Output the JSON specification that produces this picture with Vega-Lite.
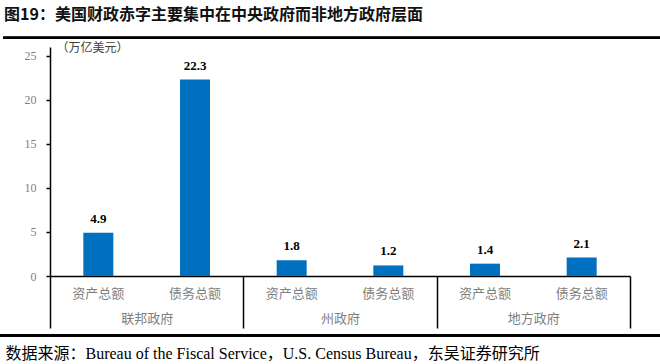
{
  "$schema": "https://vega.github.io/schema/vega-lite/v6.json",
  "width": 580,
  "height": 229,
  "autosize": {"type": "none"},
  "padding": {"left": 50, "top": 47, "right": 30, "bottom": 88},
  "background": "white",
  "config": {
    "view": {"stroke": null},
    "font": "Liberation Serif, Noto Sans CJK SC"
  },
  "title": {
    "text": "图19：美国财政赤字主要集中在中央政府而非地方政府层面",
    "anchor": "start",
    "frame": "group",
    "dx": -46,
    "offset": 14,
    "fontSize": 16,
    "fontWeight": "bold",
    "color": "#111111",
    "font": "Noto Sans CJK SC"
  },
  "data": {
    "values": [
      {"group": "联邦政府", "item": "资产总额", "key": "联邦政府|资产总额", "value": 4.9},
      {"group": "联邦政府", "item": "债务总额", "key": "联邦政府|债务总额", "value": 22.3},
      {"group": "州政府", "item": "资产总额", "key": "州政府|资产总额", "value": 1.8},
      {"group": "州政府", "item": "债务总额", "key": "州政府|债务总额", "value": 1.2},
      {"group": "地方政府", "item": "资产总额", "key": "地方政府|资产总额", "value": 1.4},
      {"group": "地方政府", "item": "债务总额", "key": "地方政府|债务总额", "value": 2.1}
    ]
  },
  "layer": [
    {
      "layer": [
        {
          "mark": {"type": "bar", "color": "#0070C0", "width": 30},
          "encoding": {
            "x": {
              "field": "key",
              "type": "nominal",
              "sort": null,
              "scale": {"paddingInner": 0, "paddingOuter": 0},
              "axis": {
                "title": null,
                "labelExpr": "split(datum.value, '|')[1]",
                "labelAngle": 0,
                "labelFont": "Noto Sans CJK SC",
                "labelFontSize": 13,
                "labelColor": "#808080",
                "labelBaseline": "middle",
                "labelPadding": 17,
                "ticks": false,
                "domain": true,
                "domainColor": "#000000",
                "domainWidth": 1.5,
                "grid": false
              }
            },
            "y": {
              "field": "value",
              "type": "quantitative",
              "scale": {"domain": [0, 25]},
              "axis": {
                "values": [0, 5, 10, 15, 20, 25],
                "grid": false,
                "domainColor": "#000000",
                "domainWidth": 1.5,
                "tickColor": "#000000",
                "tickSize": 4,
                "tickWidth": 1.5,
                "labelFont": "Liberation Serif",
                "labelFontSize": 12,
                "labelColor": "#808080",
                "labelPadding": 10,
                "title": "（万亿美元）",
                "titleAngle": 0,
                "titleX": 6,
                "titleY": 0,
                "titleAlign": "left",
                "titleBaseline": "middle",
                "titleFont": "Noto Sans CJK SC",
                "titleFontSize": 12,
                "titleFontWeight": "normal",
                "titleColor": "#404040"
              }
            }
          }
        },
        {
          "mark": {
            "type": "text",
            "baseline": "middle",
            "dy": -14,
            "font": "Liberation Serif",
            "fontSize": 13,
            "fontWeight": "bold",
            "color": "#000000"
          },
          "encoding": {
            "x": {"field": "key", "type": "nominal", "sort": null},
            "y": {"field": "value", "type": "quantitative"},
            "text": {"field": "value", "type": "quantitative", "format": ".1f"}
          }
        }
      ]
    },
    {
      "mark": {"type": "tick", "opacity": 0},
      "encoding": {
        "x": {
          "field": "group",
          "type": "nominal",
          "sort": null,
          "scale": {"paddingInner": 0, "paddingOuter": 0},
          "axis": {
            "orient": "bottom",
            "labelAngle": 0,
            "labelFont": "Noto Sans CJK SC",
            "labelFontSize": 13,
            "labelColor": "#808080",
            "labelBaseline": "middle",
            "labelPadding": -10,
            "domain": false,
            "ticks": true,
            "tickBand": "extent",
            "tickSize": 52,
            "tickColor": "#000000",
            "tickWidth": 1.5,
            "grid": false,
            "title": "数据来源：Bureau of the Fiscal Service，U.S. Census Bureau，东吴证券研究所",
            "titleX": -45,
            "titleY": 77,
            "titleAlign": "left",
            "titleAnchor": "start",
            "titleBaseline": "middle",
            "titleFont": "Liberation Serif, Noto Sans CJK SC",
            "titleFontSize": 16,
            "titleFontWeight": "normal",
            "titleColor": "#000000"
          }
        },
        "y": {"field": "value", "type": "quantitative"}
      }
    },
    {
      "mark": {"type": "rule", "color": "#000000", "strokeWidth": 2},
      "encoding": {
        "y": {"datum": 27.05, "type": "quantitative"},
        "x": {"value": -47},
        "x2": {"value": 610}
      }
    },
    {
      "mark": {"type": "rule", "color": "#000000", "strokeWidth": 2},
      "encoding": {
        "y": {"datum": -6.75, "type": "quantitative"},
        "x": {"value": -50},
        "x2": {"value": 610}
      }
    }
  ],
  "resolve": {"scale": {"x": "independent"}, "axis": {"x": "independent"}}
}
